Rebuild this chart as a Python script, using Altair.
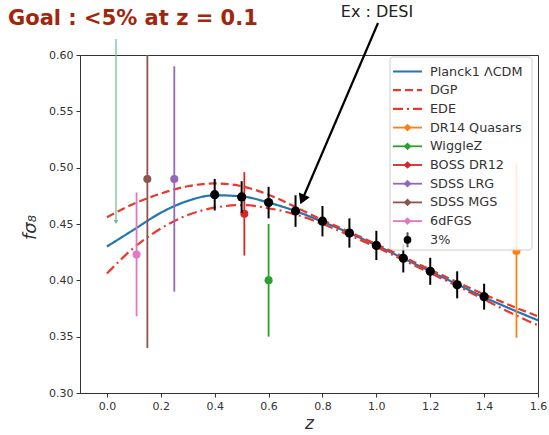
import altair as alt
import pandas as pd

# ---------------- data ----------------
z_grid = [0.0, 0.1, 0.2, 0.3, 0.4, 0.5, 0.6, 0.7, 0.8, 0.9, 1.0, 1.1, 1.2, 1.3, 1.4, 1.5, 1.6]
lcdm = [0.430, 0.445, 0.460, 0.4705, 0.4755, 0.4745, 0.469, 0.4615, 0.452, 0.442, 0.431,
        0.4195, 0.408, 0.3965, 0.385, 0.3745, 0.3645]
dgp = [0.456, 0.468, 0.477, 0.4835, 0.486, 0.4835, 0.476, 0.465, 0.4535, 0.443, 0.432,
       0.421, 0.4095, 0.3985, 0.3875, 0.3775, 0.368]
ede = [0.406, 0.429, 0.446, 0.458, 0.4645, 0.4668, 0.464, 0.4585, 0.450, 0.440, 0.4295,
       0.418, 0.4065, 0.395, 0.383, 0.371, 0.360]
model_names = ["Planck1 ΛCDM", "DGP", "EDE"]

survey_names = ["DR14 Quasars", "WiggleZ", "BOSS DR12", "SDSS LRG", "SDSS MGS", "6dFGS"]
survey_z = [1.52, 0.60, 0.51, 0.25, 0.15, 0.11]
survey_val = [0.426, 0.400, 0.459, 0.490, 0.490, 0.423]
survey_err = [0.077, 0.050, 0.037, 0.100, 0.150, 0.055]

desi_z = [0.4, 0.5, 0.6, 0.7, 0.8, 0.9, 1.0, 1.1, 1.2, 1.3, 1.4]
desi_val = [0.476, 0.474, 0.469, 0.4615, 0.4525, 0.442, 0.431, 0.4195, 0.408, 0.396, 0.3855]
desi_err = [0.014, 0.014, 0.014, 0.014, 0.0135, 0.013, 0.013, 0.0125, 0.012, 0.012, 0.0115]

all_names = model_names + survey_names + ["3%"]
all_colors = ["#1f77b4", "#e8392c", "#e8392c", "#ff7f0e", "#2ca02c", "#d62728",
              "#9467bd", "#8c564b", "#e377c2", "#000000"]
dash_styles = [[1, 0], [8, 4], [10, 4, 2, 4]]

x_ticks = [0.0, 0.2, 0.4, 0.6, 0.8, 1.0, 1.2, 1.4, 1.6]
y_ticks = [0.30, 0.35, 0.40, 0.45, 0.50, 0.55, 0.60]

# ---------------- tables ----------------
curves = pd.DataFrame({
    "z": z_grid * 3,
    "value": lcdm + dgp + ede,
    "name": [model_names[0]] * len(z_grid) + [model_names[1]] * len(z_grid) + [model_names[2]] * len(z_grid),
})
surveys = pd.DataFrame({"z": survey_z, "value": survey_val, "err": survey_err, "name": survey_names})
desi = pd.DataFrame({"z": desi_z, "value": desi_val, "err": desi_err, "name": ["3%"] * len(desi_z)})

color = alt.Color("name:N", scale=alt.Scale(domain=all_names, range=all_colors), legend=None)
dash = alt.StrokeDash("name:N", scale=alt.Scale(domain=model_names, range=dash_styles), legend=None)

xs = alt.Scale(domain=[-0.1, 1.6], nice=False, zero=False)
ys = alt.Scale(domain=[0.30, 0.60], nice=False, zero=False)
ink = "#333333"
x_axis = alt.Axis(values=x_ticks, format=".1f", title="z", grid=False, labelFlush=False,
                  titleFontStyle="italic", titleFontWeight="normal", titleFontSize=17,
                  titleX=229, titleY=35, titleBaseline="alphabetic",
                  labelFontSize=11, labelColor=ink, tickColor=ink, domainColor=ink,
                  tickSize=4, labelPadding=3, titleColor=ink)
y_axis = alt.Axis(values=y_ticks, format=".2f", title="fσ₈", grid=False, labelFlush=False,
                  titleFontStyle="italic", titleFontWeight="normal", titleFontSize=18,
                  titleX=-45, titleY=172, titleBaseline="alphabetic",
                  labelFontSize=11, labelColor=ink, tickColor=ink, domainColor=ink,
                  tickSize=4, labelPadding=3, titleColor=ink)

X = alt.X("z:Q", scale=xs, axis=x_axis)

lines = alt.Chart(curves).mark_line(strokeWidth=2.2, interpolate="monotone", clip=True).encode(
    x=X, y=alt.Y("value:Q", scale=ys, axis=y_axis), color=color, strokeDash=dash,
    detail="name:N")

survey_bars = alt.Chart(surveys).transform_calculate(
    lo="datum.value - datum.err", hi="datum.value + datum.err"
).mark_rule(strokeWidth=1.8, clip=True).encode(
    x=X, y=alt.Y("lo:Q", scale=ys, axis=y_axis), y2="hi:Q", color=color)

survey_pts = alt.Chart(surveys).mark_circle(size=65, opacity=1).encode(
    x=X, y=alt.Y("value:Q", scale=ys, axis=y_axis), color=color)

desi_bars = alt.Chart(desi).transform_calculate(
    lo="datum.value - datum.err", hi="datum.value + datum.err"
).mark_rule(strokeWidth=2, color="black").encode(
    x=X, y=alt.Y("lo:Q", scale=ys, axis=y_axis), y2="hi:Q")

desi_pts = alt.Chart(desi).mark_circle(size=85, opacity=1, color="black").encode(
    x=X, y=alt.Y("value:Q", scale=ys, axis=y_axis))

one = pd.DataFrame({"k": [0]})

# annotations (pixel positions relative to the plot area)
black_arrow = alt.Chart(one).mark_rule(strokeWidth=2.2, color="black").encode(
    x=alt.value(298), y=alt.value(-32), x2=alt.value(223), y2=alt.value(143))
black_head = alt.Chart(one).mark_point(shape="triangle", filled=True, size=140, angle=203,
                                       color="black", opacity=1).encode(
    x=alt.value(223), y=alt.value(143))
green_arrow = alt.Chart(one).mark_rule(strokeWidth=1.2, color="#5fbf8f").encode(
    x=alt.value(36), y=alt.value(-16), x2=alt.value(36), y2=alt.value(166))
green_head = alt.Chart(one).mark_point(shape="triangle-down", filled=True, size=20,
                                       color="#5fbf8f", opacity=1).encode(
    x=alt.value(36), y=alt.value(167))
goal_text = alt.Chart(one).mark_text(text="Goal : <5% at z = 0.1", align="left", baseline="middle",
                                     fontSize=21, fontWeight="bold", color="#a3260c").encode(
    x=alt.value(-72), y=alt.value(-36))
desi_text = alt.Chart(one).mark_text(text="Ex : DESI", align="center", baseline="middle",
                                     fontSize=16, color="#222222").encode(
    x=alt.value(297), y=alt.value(-43))

main = alt.layer(lines, survey_bars, survey_pts, desi_bars, desi_pts,
                 green_arrow, green_head, black_arrow, black_head, goal_text, desi_text)

# ---------------- legend (drawn inside the plot) ----------------
ly = alt.Y("name:N", scale=alt.Scale(type="point", domain=all_names, range=[16.5, 184.8], padding=0),
           axis=None)
leg_models = pd.DataFrame({"name": model_names})
leg_surveys = pd.DataFrame({"name": survey_names})
leg_desi = pd.DataFrame({"name": ["3%"]})
leg_all = pd.DataFrame({"name": all_names})

leg_box = alt.Chart(one).mark_rect(fill="white", fillOpacity=0.85, stroke="#cccccc",
                                   strokeWidth=1, cornerRadius=3).encode(
    x=alt.value(310), x2=alt.value(452), y=alt.value(2), y2=alt.value(195))
leg_lines = alt.Chart(leg_models).mark_rule(strokeWidth=2.2).encode(
    x=alt.value(313), x2=alt.value(342), y=ly, color=color, strokeDash=dash)
leg_slines = alt.Chart(leg_surveys).mark_rule(strokeWidth=1.8).encode(
    x=alt.value(313), x2=alt.value(342), y=ly, color=color)
leg_diam = alt.Chart(leg_surveys).mark_point(shape="diamond", filled=True, size=60, opacity=1).encode(
    x=alt.value(327.5), y=ly, color=color)
leg_dtick = alt.Chart(leg_desi).mark_tick(orient="vertical", size=15, thickness=2, color="black").encode(
    x=alt.value(327.5), y=ly)
leg_dpt = alt.Chart(leg_desi).mark_circle(size=60, opacity=1, color="black").encode(
    x=alt.value(327.5), y=ly)
leg_text = alt.Chart(leg_all).mark_text(align="left", baseline="middle", fontSize=12.8,
                                        color="#333333").encode(
    x=alt.value(350), y=ly, text="name:N")

legend = alt.layer(leg_box, leg_lines, leg_slines, leg_diam, leg_dtick, leg_dpt, leg_text)

chart = alt.layer(main, legend).resolve_scale(y="independent").properties(
    width=458, height=338,
    autosize=alt.AutoSizeParams(type="none"),
    padding={"left": 80, "top": 55, "right": 11, "bottom": 42},
    background="white",
).configure(font="DejaVu Sans").configure_view(stroke=ink, strokeWidth=1)

chart.save("out.html", embed_options={"renderer": "svg", "actions": False})
